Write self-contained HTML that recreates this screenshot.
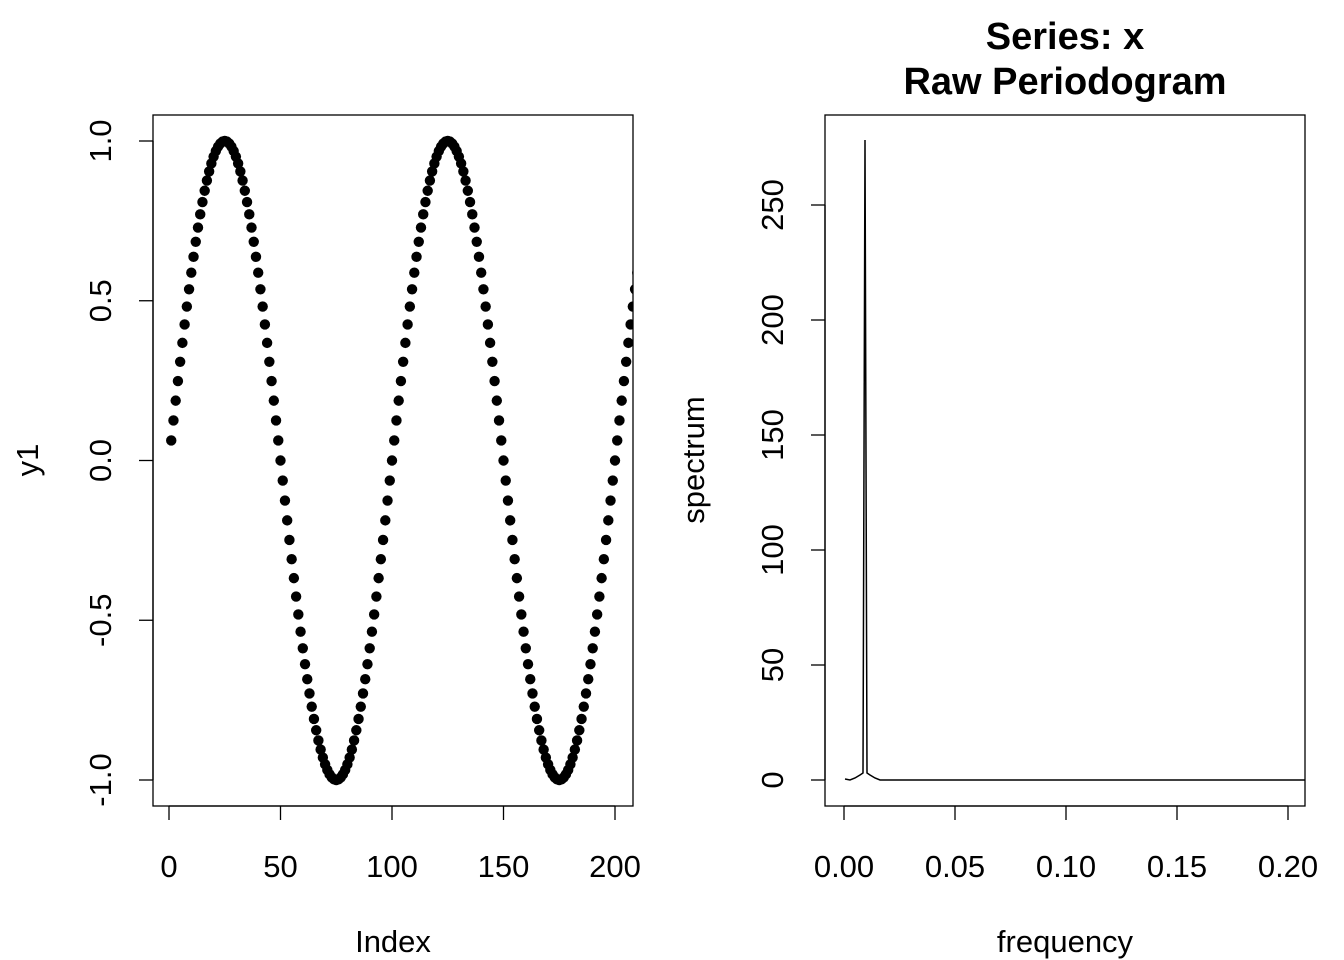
<!DOCTYPE html>
<html><head><style>body{margin:0;background:#fff}svg{display:block}text{font-family:"Liberation Sans",sans-serif;fill:#000}</style></head>
<body>
<svg width="1344" height="960" viewBox="0 0 1344 960" xmlns="http://www.w3.org/2000/svg">
<defs><clipPath id="c1"><rect x="153" y="115" width="480" height="691"/></clipPath></defs>
<rect x="153" y="115" width="480" height="691" fill="none" stroke="#000" stroke-width="1.3"/>
<g clip-path="url(#c1)" id="dots"></g>
<g stroke="#000" stroke-width="1.3">
<line x1="169" y1="806" x2="615" y2="806"/>
<line x1="169" y1="806" x2="169" y2="820"/><line x1="280.5" y1="806" x2="280.5" y2="820"/><line x1="392" y1="806" x2="392" y2="820"/><line x1="503.5" y1="806" x2="503.5" y2="820"/><line x1="615" y1="806" x2="615" y2="820"/>
<line x1="153" y1="141" x2="153" y2="780"/>
<line x1="139" y1="141" x2="153" y2="141"/><line x1="139" y1="300.75" x2="153" y2="300.75"/><line x1="139" y1="460.5" x2="153" y2="460.5"/><line x1="139" y1="620.25" x2="153" y2="620.25"/><line x1="139" y1="780" x2="153" y2="780"/>
</g>
<g font-size="31" text-anchor="middle">
<text x="169" y="877">0</text><text x="280.5" y="877">50</text><text x="392" y="877">100</text><text x="503.5" y="877">150</text><text x="615" y="877">200</text>
<text x="393" y="952">Index</text>
<text transform="translate(111,141) rotate(-90)">1.0</text>
<text transform="translate(111,300.75) rotate(-90)">0.5</text>
<text transform="translate(111,460.5) rotate(-90)">0.0</text>
<text transform="translate(111,620.25) rotate(-90)">-0.5</text>
<text transform="translate(111,780) rotate(-90)">-1.0</text>
<text transform="translate(38,460) rotate(-90)">y1</text>
</g>
<rect x="825" y="115" width="480" height="691" fill="none" stroke="#000" stroke-width="1.3"/>
<g stroke="#000" stroke-width="1.3">
<line x1="844" y1="806" x2="1288" y2="806"/>
<line x1="844" y1="806" x2="844" y2="820"/><line x1="955" y1="806" x2="955" y2="820"/><line x1="1066" y1="806" x2="1066" y2="820"/><line x1="1177" y1="806" x2="1177" y2="820"/><line x1="1288" y1="806" x2="1288" y2="820"/>
<line x1="825" y1="205" x2="825" y2="780"/>
<line x1="811" y1="780" x2="825" y2="780"/><line x1="811" y1="665" x2="825" y2="665"/><line x1="811" y1="550" x2="825" y2="550"/><line x1="811" y1="435" x2="825" y2="435"/><line x1="811" y1="320" x2="825" y2="320"/><line x1="811" y1="205" x2="825" y2="205"/>
</g>
<polyline fill="none" stroke="#000" stroke-width="1.5" points="845,779 850,780 855,778 860,775 863,773 865,140 867,773 870,775 875,778 880,780 1305,780"/>
<g font-size="31" text-anchor="middle">
<text x="844" y="877">0.00</text><text x="955" y="877">0.05</text><text x="1066" y="877">0.10</text><text x="1177" y="877">0.15</text><text x="1288" y="877">0.20</text>
<text x="1065" y="952">frequency</text>
<text transform="translate(783,780) rotate(-90)">0</text>
<text transform="translate(783,665) rotate(-90)">50</text>
<text transform="translate(783,550) rotate(-90)">100</text>
<text transform="translate(783,435) rotate(-90)">150</text>
<text transform="translate(783,320) rotate(-90)">200</text>
<text transform="translate(783,205) rotate(-90)">250</text>
<text transform="translate(704,460) rotate(-90)">spectrum</text>
<text x="1065" y="49" font-weight="bold" font-size="38">Series: x</text>
<text x="1065" y="94" font-weight="bold" font-size="38">Raw Periodogram</text>
</g>
</svg>
<script>
var g=document.getElementById('dots'),s='';
for(var i=1;i<=210;i++){var x=169+i*2.23,y=460.5-319.5*Math.sin(2*Math.PI*i/100);s+='<circle cx="'+x.toFixed(2)+'" cy="'+y.toFixed(2)+'" r="5.2" fill="#000"/>';}
g.innerHTML=s;
</script>
</body></html>
